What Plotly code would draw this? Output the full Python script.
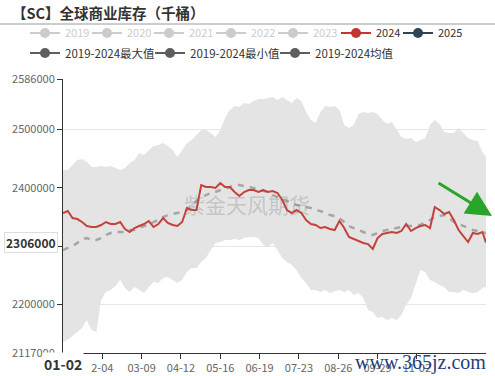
import plotly.graph_objects as go

# ---------------- data ----------------
# x categories: day index along the seasonal axis (0 = 01-02)
day_idx = list(range(0, 353, 4)) + [355]

tick_idx = [0, 33, 66, 99, 132, 165, 198, 231, 264, 297]
tick_text = ["", "2-04", "03-09", "04-12", "05-16", "06-19", "07-23", "08-26", "09-29", "11-02"]

y_ticks = [2117000, 2200000, 2300000, 2400000, 2500000, 2586000]

max_2019_2024 = [
    2430200, 2430200, 2438800, 2447300, 2449000, 2443900, 2435300, 2435300, 2437100, 2435300,
    2437100, 2433600, 2430200, 2433600, 2442200, 2447300, 2459300, 2455900, 2464400, 2471300,
    2473000, 2476400, 2471300, 2464400, 2452500, 2464400, 2476400, 2481600, 2490100, 2498700,
    2498700, 2493600, 2486700, 2498700, 2519200, 2532900, 2539800, 2538000, 2544900, 2543200,
    2548300, 2551700, 2551700, 2553500, 2555200, 2550000, 2555200, 2550000, 2544900, 2553500,
    2548300, 2529500, 2515800, 2510700, 2529500, 2539800, 2538000, 2539800, 2532900, 2507200,
    2502100, 2507200, 2526100, 2529500, 2527800, 2529500, 2526100, 2515800, 2508900, 2512400,
    2498700, 2486700, 2483300, 2485000, 2478100, 2481600, 2485000, 2507200, 2515800, 2508900,
    2495300, 2493600, 2493600, 2502100, 2493600, 2485000, 2481600, 2479900, 2461000, 2452500,
]

min_2019_2024 = [
    2135800, 2139200, 2146100, 2153000, 2159800, 2173500, 2156400, 2153000, 2207700, 2221400,
    2224800, 2231700, 2241900, 2228300, 2221400, 2230000, 2224800, 2219700, 2230000, 2238500,
    2236800, 2245400, 2247100, 2241900, 2236800, 2241900, 2255600, 2262500, 2262500, 2272700,
    2279600, 2293300, 2305300, 2307000, 2310400, 2310400, 2312100, 2310400, 2313800, 2315500,
    2315500, 2313800, 2301800, 2298400, 2305300, 2293300, 2279600, 2272700, 2267600, 2259000,
    2245400, 2236800, 2224800, 2224800, 2221400, 2224800, 2219700, 2223100, 2224800, 2221400,
    2224800, 2216300, 2219700, 2211100, 2190600, 2187200, 2176900, 2178600, 2173500, 2176900,
    2173500, 2182100, 2199100, 2211100, 2233400, 2259000, 2255600, 2241900, 2238500, 2233400,
    2230000, 2221400, 2221400, 2219700, 2224800, 2221400, 2219700, 2221400, 2228300, 2230000,
]

mean_2019_2024 = [
    2293300, 2296700, 2300100, 2305300, 2312100, 2313800, 2310400, 2310400, 2313800, 2319000,
    2322400, 2324100, 2324100, 2324100, 2327500, 2327500, 2330900, 2334400, 2336100, 2341200,
    2344600, 2349700, 2353200, 2354900, 2356600, 2358300, 2361700, 2368600, 2377200, 2382300,
    2387400, 2390900, 2392600, 2396000, 2397700, 2401100, 2404500, 2404500, 2402800, 2401100,
    2399400, 2396000, 2394300, 2392600, 2387400, 2384000, 2380600, 2377200, 2373700, 2370300,
    2368600, 2366900, 2365200, 2361700, 2360000, 2356600, 2353200, 2351500, 2348000, 2341200,
    2334400, 2330900, 2327500, 2324100, 2320700, 2319000, 2322400, 2325800, 2327500, 2329200,
    2330900, 2332600, 2334400, 2334400, 2336100, 2336100, 2341200, 2344600, 2349700, 2351500,
    2353200, 2348000, 2341200, 2337800, 2334400, 2330900, 2327500, 2325800, 2324100, 2322400,
]

stock_2024 = [
    2356600, 2360000, 2348000, 2346300, 2341200, 2334400, 2332600, 2332600, 2336100, 2341200,
    2337800, 2337800, 2341200, 2329200, 2324100, 2330900, 2334400, 2337800, 2342900, 2332600,
    2337800, 2348000, 2339500, 2336100, 2334400, 2341200, 2365200, 2361700, 2361700, 2404500,
    2401100, 2401100, 2399400, 2407900, 2401100, 2401100, 2392600, 2385700, 2392600, 2396000,
    2396000, 2392600, 2396000, 2392600, 2394300, 2390900, 2378900, 2361700, 2356600, 2361700,
    2356600, 2344600, 2337800, 2336100, 2330900, 2332600, 2329200, 2327500, 2342900, 2330900,
    2315500, 2312100, 2308700, 2305300, 2303500, 2295000, 2313800, 2320700, 2322400, 2324100,
    2322400, 2325800, 2337800, 2325800, 2330900, 2334400, 2336100, 2330900, 2366900, 2361700,
    2354900, 2358300, 2344600, 2327500, 2317200, 2307000, 2322400, 2320700, 2324100, 2306000,
]

hidden_years = ["2019", "2020", "2021", "2022", "2023"]
active_years = ["2024", "2025"]
stat_names = ["2019-2024最大值", "2019-2024最小值", "2019-2024均值"]

pointer_value = 2306000
title_text = "【SC】全球商业库存（千桶）"

# ---------------- figure ----------------
W, H = 495, 376
ML, MR, MT, MB = 63, 9, 79, 23
PW, PH = W - ML - MR, H - MT - MB

def px_x(p):
    return (p - ML) / PW

def px_y(p):
    return (H - MB - p) / PH

BAND = "#e4e4e4"
RED = "#c23531"
STAT = "#5e5e5e"

fig = go.Figure()

# band (max / min)
fig.add_trace(go.Scatter(x=day_idx, y=max_2019_2024, mode="lines",
                         line=dict(width=0, color=BAND), showlegend=False,
                         hoverinfo="skip"))
fig.add_trace(go.Scatter(x=day_idx, y=min_2019_2024, mode="lines",
                         line=dict(width=0, color=BAND), fill="tonexty",
                         fillcolor=BAND, showlegend=False, hoverinfo="skip"))
# mean
fig.add_trace(go.Scatter(x=day_idx, y=mean_2019_2024, mode="lines",
                         line=dict(width=2.5, color="#a6a6a6", dash="6px,6px"),
                         showlegend=False, hoverinfo="skip"))
# 2024
fig.add_trace(go.Scatter(x=day_idx, y=stock_2024, mode="lines",
                         line=dict(width=2, color="#c4423b"), showlegend=False,
                         hoverinfo="skip"))

# legend entries
for i, yr in enumerate(hidden_years):
    fig.add_trace(go.Scatter(x=[None], y=[None], mode="lines+markers", name=yr,
                             visible="legendonly", legend="legend",
                             legendwidth=(30 if i == len(hidden_years) - 1 else None),
                             line=dict(color="#9a9a9a", width=2),
                             marker=dict(size=10, color="#9a9a9a")))
for i, (yr, col) in enumerate(zip(active_years, [RED, "#2f4554"])):
    fig.add_trace(go.Scatter(x=[None], y=[None], mode="lines+markers", name=yr,
                             legend="legend2",
                             legendwidth=(30 if i == len(active_years) - 1 else None),
                             line=dict(color=col, width=2),
                             marker=dict(size=10, color=col)))
for nm in stat_names:
    fig.add_trace(go.Scatter(x=[None], y=[None], mode="lines+markers", name=nm,
                             legend="legend3",
                             line=dict(color=STAT, width=2),
                             marker=dict(size=10, color=STAT)))

leg_common = dict(orientation="h", bgcolor="rgba(0,0,0,0)", itemwidth=30,
                  xanchor="left", yanchor="middle", traceorder="normal",
                  entrywidthmode="pixels", borderwidth=0,
                  itemclick=False, itemdoubleclick=False)

fig.update_layout(
    width=W, height=H,
    margin=dict(l=ML, r=MR, t=MT, b=MB, pad=0, autoexpand=False),
    paper_bgcolor="white", plot_bgcolor="white",
    font=dict(family="Noto Sans CJK SC, Noto Sans, sans-serif", size=11, color="#333"),
    hovermode=False,
    legend=dict(**leg_common, x=px_x(25), y=px_y(33), entrywidth=17,
                font=dict(size=11, color="#999")),
    legend2=dict(**leg_common, x=px_x(336), y=px_y(33), entrywidth=17,
                 font=dict(size=11, color="#333")),
    legend3=dict(**leg_common, x=px_x(25), y=px_y(53), entrywidth=80,
                 font=dict(size=11.5, color="#333")),
    xaxis=dict(range=[0, 355], tickvals=tick_idx, ticktext=tick_text,
               showgrid=False, zeroline=False, showline=True, linecolor="#333",
               linewidth=1, ticks="outside", ticklen=5, tickcolor="#333",
               tickfont=dict(size=11, color="#666")),
    yaxis=dict(range=[y_ticks[0], y_ticks[-1]], tickvals=y_ticks,
               ticktext=[str(v) for v in y_ticks],
               showgrid=True, gridcolor="#e6e6e6", zeroline=False,
               showline=True, linecolor="#333", linewidth=1,
               ticks="outside", ticklen=5, tickcolor="#333",
               tickfont=dict(size=11, color="#666")),
)

# title + separator
fig.add_annotation(text=title_text, xref="paper", yref="paper",
                   x=px_x(10), y=px_y(12), xanchor="left", yanchor="middle",
                   showarrow=False,
                   font=dict(size=14.5, color="#333", family="Noto Sans CJK SC", weight="bold"))
fig.add_shape(type="line", xref="paper", yref="paper",
              x0=px_x(0), x1=px_x(W), y0=px_y(24), y1=px_y(24),
              line=dict(color="#9a9a9a", width=1))

# axis-pointer labels
fig.add_annotation(text="<b>%d</b>" % pointer_value, xref="paper", yref="y",
                   x=px_x(58), y=pointer_value, xanchor="right", yanchor="middle",
                   showarrow=False, bgcolor="white", bordercolor="#dddddd",
                   borderwidth=1, borderpad=1,
                   font=dict(size=12, color="#333"))
fig.add_annotation(text="<b>01-02</b>", xref="x", yref="paper",
                   x=0, y=px_y(364), xanchor="center", yanchor="middle",
                   showarrow=False, bgcolor="white",
                   font=dict(size=14, color="#333"))

# watermarks
fig.add_annotation(text="紫金天风期货", xref="paper", yref="paper",
                   x=px_x(247), y=px_y(204), showarrow=False,
                   font=dict(size=21, color="rgba(120,120,120,0.3)",
                             family="Noto Sans CJK SC"))
fig.add_annotation(text="www.365jz.com", xref="paper", yref="paper",
                   x=px_x(488), y=px_y(362), xanchor="right", yanchor="middle",
                   showarrow=False,
                   font=dict(size=20, color="#1f3f7f", family="Liberation Serif"))

# green arrow
fig.add_annotation(x=px_x(492), y=px_y(216), xref="paper", yref="paper",
                   ax=-55, ay=-34, text="", showarrow=True,
                   arrowhead=2, arrowsize=1.7, arrowwidth=3, arrowcolor="#2aa52a")

fig.write_html("out.html",
               config={"displayModeBar": False, "staticPlot": True},
               post_script="document.body.style.margin='0px';document.body.style.overflow='hidden';")
